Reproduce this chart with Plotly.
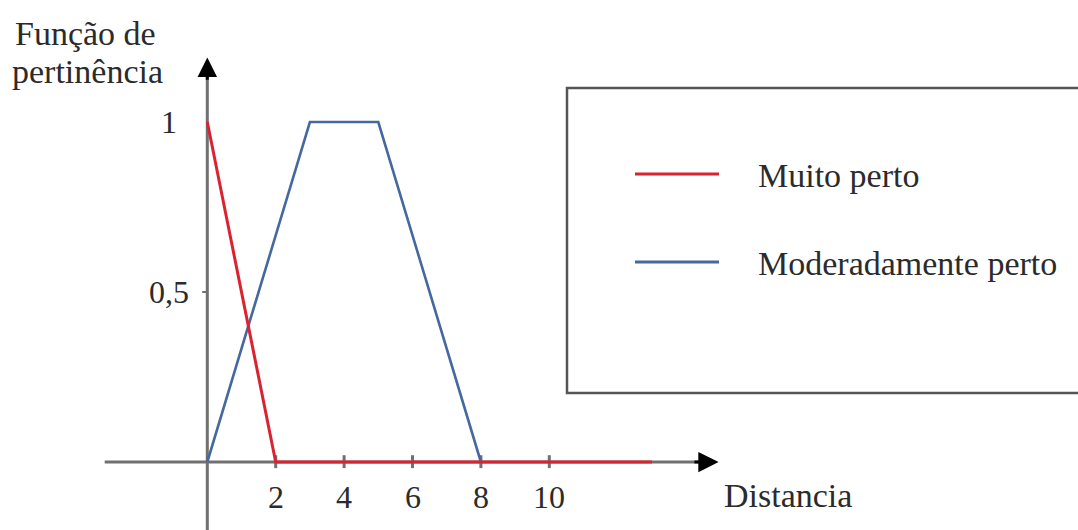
import plotly.graph_objects as go

# membership functions (x = distancia, y = pertinencia)
muito_x = [0, 2, 13]
muito_y = [1, 0, 0]
moder_x = [0, 3, 5, 8]
moder_y = [0, 1, 1, 0]

x_ticks = [2, 4, 6, 8, 10]
x_ticklabels = ["2", "4", "6", "8", "10"]
y_ticks = [1, 0.5]
y_ticklabels = ["1", "0,5"]

series_names = ["Muito perto", "Moderadamente perto"]
series_colors = ["#d92330", "#44689f"]

W, H = 1078, 530
FONT = "Liberation Serif"
AXIS_COLOR = "#707070"
TEXT_COLOR = "#2b2b2b"

fig = go.Figure()
fig.add_trace(go.Scatter(x=moder_x, y=moder_y, mode="lines",
                         line=dict(color=series_colors[1], width=2.6),
                         name=series_names[1]))
fig.add_trace(go.Scatter(x=muito_x, y=muito_y, mode="lines",
                         line=dict(color=series_colors[0], width=3),
                         name=series_names[0]))

shapes = []
annotations = []

# axes lines (drawn below the traces)
shapes.append(dict(type="line", xref="x", yref="y", x0=-3, x1=14.5, y0=0, y1=0,
                   line=dict(color=AXIS_COLOR, width=3), layer="below"))
shapes.append(dict(type="line", xref="x", yref="y", x0=0, x1=0, y0=-0.2, y1=1.16,
                   line=dict(color=AXIS_COLOR, width=3), layer="below"))

# arrow heads
annotations.append(dict(x=14.95, y=0, ax=14.2, ay=0, xref="x", yref="y", axref="x", ayref="y",
                        text="", showarrow=True, arrowhead=2, arrowsize=1.35,
                        arrowwidth=3, arrowcolor="#000000"))
annotations.append(dict(x=0, y=1.19, ax=0, ay=1.12, xref="x", yref="y", axref="x", ayref="y",
                        text="", showarrow=True, arrowhead=2, arrowsize=1.3,
                        arrowwidth=3, arrowcolor="#000000"))

# x ticks and labels
for xv, lab in zip(x_ticks, x_ticklabels):
    shapes.append(dict(type="line", xref="x", yref="y", x0=xv, x1=xv, y0=0.02, y1=-0.018,
                       line=dict(color=AXIS_COLOR, width=3), layer="below"))
    annotations.append(dict(x=xv, y=0, xref="x", yref="y", text=lab, showarrow=False,
                            yanchor="middle", yshift=-35,
                            font=dict(family=FONT, size=32, color=TEXT_COLOR)))

# y labels
for yv, lab in zip(y_ticks, y_ticklabels):
    annotations.append(dict(x=0, y=yv, xref="x", yref="y", text=lab, showarrow=False,
                            xanchor="center", xshift=-38, yanchor="middle",
                            font=dict(family=FONT, size=32, color=TEXT_COLOR)))
shapes.append(dict(type="line", xref="x", yref="y", x0=-0.15, x1=0, y0=0.5, y1=0.5,
                   line=dict(color=AXIS_COLOR, width=2), layer="below"))

# axis titles
annotations.append(dict(x=85 / W, y=1 - 34 / H, xref="paper", yref="paper", text="Função de",
                        showarrow=False, xanchor="center", yanchor="middle",
                        font=dict(family=FONT, size=34, color=TEXT_COLOR)))
annotations.append(dict(x=87 / W, y=1 - 72 / H, xref="paper", yref="paper", text="pertinência",
                        showarrow=False, xanchor="center", yanchor="middle",
                        font=dict(family=FONT, size=34, color=TEXT_COLOR)))
annotations.append(dict(x=15.05, y=0, xref="x", yref="y", text="Distancia", showarrow=False,
                        xanchor="left", yanchor="middle", yshift=-33,
                        font=dict(family=FONT, size=34, color=TEXT_COLOR)))

# legend box
shapes.append(dict(type="rect", xref="paper", yref="paper",
                   x0=567 / W, x1=1.01, y0=1 - 393 / H, y1=1 - 88 / H,
                   line=dict(color="#555555", width=2.5), fillcolor="white", layer="below"))
leg_rows = [174, 262]
for name, col, row in zip(series_names, series_colors, leg_rows):
    shapes.append(dict(type="line", xref="paper", yref="paper",
                       x0=635 / W, x1=719 / W, y0=1 - row / H, y1=1 - row / H,
                       line=dict(color=col, width=3)))
    annotations.append(dict(x=756 / W, y=1 - (row + 1) / H, xref="paper", yref="paper",
                            text=name, showarrow=False, xanchor="left", yanchor="middle",
                            font=dict(family=FONT, size=34, color=TEXT_COLOR)))

px_per_x = 34.2
px_per_y = 340.0
x0_px, y0_px = 207.3, 462.0

fig.update_layout(
    width=W, height=H,
    margin=dict(l=0, r=0, t=0, b=0),
    paper_bgcolor="white",
    plot_bgcolor="white",
    showlegend=False,
    xaxis=dict(range=[-x0_px / px_per_x, (W - x0_px) / px_per_x],
               visible=False, fixedrange=True),
    yaxis=dict(range=[-(H - y0_px) / px_per_y, y0_px / px_per_y],
               visible=False, fixedrange=True),
    shapes=shapes,
    annotations=annotations,
)

# page body has a default margin; drop it so the figure sits at the window corner
fig.write_html("out.html", config={"displayModeBar": False},
               post_script="document.body.style.margin='0';")
